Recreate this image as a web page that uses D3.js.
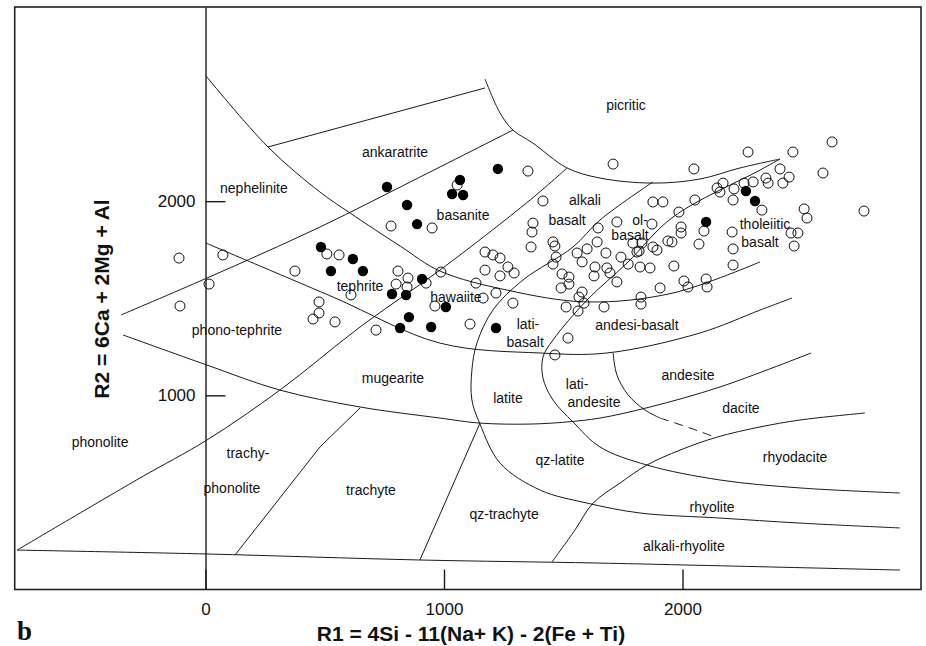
<!DOCTYPE html>
<html>
<head>
<meta charset="utf-8">
<script src="https://cdn.jsdelivr.net/npm/d3@7"></script>
<style>
  body { margin: 0; background: #fff; }
  svg text { font-family: "Liberation Sans", Arial, sans-serif; fill: #111; }
</style>
</head>
<body>
<div id="chart"></div>
<script>
// R1-R2 classification diagram (De la Roche)
const xDomain = [-800, 3000];
const yDomain = [0, 3000];
const xTickValues = [0, 1000, 2000];
const yTickValues = [1000, 2000];

// field boundaries, [R1, R2]
const baseLine = [[-790, 203], [2, 183], [899, 152], [1654, 136], [2912, 100]];
const phonoliteLine = [[-790, 203], [-275, 574], [6, 770], [312, 1027], [648, 1352], [983, 1645], [1361, 2006], [1516, 2171]];
const ankaratriteTop = [[262, 2279], [1172, 2583]];
const basaniteTop = [[-354, 1414], [6, 1604], [480, 1867], [899, 2124], [1289, 2366]];
const nepheliniteCurve = [[2, 2645], [262, 2279], [480, 2047], [606, 1939], [816, 1769], [983, 1640], [1264, 1542], [1600, 1481], [1960, 1527], [2325, 1687]];
const tephriteLower = [[2, 1784], [535, 1506], [983, 1269], [1403, 1218], [1683, 1218], [2073, 1321], [2325, 1439], [2459, 1501]];
const mugeariteTop = [[-346, 1311], [6, 1156], [312, 1027], [648, 940], [983, 883], [1151, 857], [1361, 852], [1516, 863], [1654, 883], [1864, 940], [2157, 1043], [2539, 1218]];
const trachyLine = [[124, 178], [480, 734], [648, 935]];
const qzTrachyLine = [[899, 152], [1151, 857]];
const latiteCurve = [[1876, 2099], [1654, 1903], [1541, 1764], [1331, 1594], [1205, 1439], [1138, 1269], [1117, 1130], [1117, 976], [1151, 852], [1235, 651], [1403, 512], [1600, 445], [1822, 394], [2157, 368], [2493, 342], [2912, 317]];
const tholeiiteCurve = [[2409, 2217], [2325, 2160], [1960, 1918], [1767, 1681], [1600, 1491], [1457, 1285], [1415, 1197], [1415, 1089], [1457, 976], [1541, 863], [1654, 734], [1851, 641], [2157, 564], [2493, 523], [2912, 497]];
const picriticArc = [[1172, 2629], [1235, 2454], [1289, 2366], [1373, 2299], [1516, 2171], [1654, 2119], [1876, 2093], [2073, 2114], [2241, 2171], [2409, 2217]];
const andesiteCurve = [[1709, 1218], [1725, 1105], [1772, 1002], [1843, 924], [1906, 883]];
const daciteDashed = [[1906, 883], [2031, 832], [2136, 785]];
const rhyodaciteCurve = [[1453, 142], [1549, 306], [1625, 445], [1738, 548], [1851, 641], [1990, 718], [2145, 785], [2325, 837], [2493, 873], [2765, 909]];

const straightLines = [ankaratriteTop, trachyLine, qzTrachyLine];
const curvedLines = [baseLine, phonoliteLine, basaniteTop, nepheliniteCurve, tephriteLower, mugeariteTop,
  latiteCurve, tholeiiteCurve, picriticArc, andesiteCurve, rhyodaciteCurve];

// field names, [text, R1, R2]
const fieldLabels = [
  ["picritic", 1763, 2495], ["ankaratrite", 795, 2253], ["nephelinite", 203, 2068],
  ["basanite", 1080, 1929], ["alkali", 1591, 2006], ["basalt", 1516, 1903],
  ["ol-", 1822, 1903], ["basalt", 1780, 1826], ["tholeiitic", 2346, 1882], ["basalt", 2325, 1790],
  ["tephrite", 648, 1563], ["hawaiite", 1050, 1506], ["phono-tephrite", 132, 1336],
  ["lati-", 1352, 1367], ["basalt", 1340, 1275], ["andesi-basalt", 1809, 1362],
  ["mugearite", 786, 1089], ["latite", 1268, 986], ["lati-", 1558, 1058], ["andesite", 1629, 966],
  ["andesite", 2023, 1105], ["dacite", 2245, 935], ["phonolite", -442, 760],
  ["trachy-", 178, 703], ["phonolite", 111, 523], ["trachyte", 694, 512],
  ["qz-latite", 1486, 667], ["qz-trachyte", 1252, 389], ["rhyodacite", 2472, 682],
  ["rhyolite", 2124, 425], ["alkali-rhyolite", 2006, 224]
];

// samples, [R1, R2]
const openSamples = [
  [-111, 1707], [73, 1723], [15, 1573], [-107, 1460], [375, 1640], [509, 1728], [560, 1723],
  [778, 1872], [950, 1862], [1055, 2083], [807, 1640], [849, 1604], [799, 1573], [845, 1558],
  [925, 1578], [987, 1635], [962, 1460], [610, 1517], [476, 1481], [476, 1424], [451, 1393],
  [543, 1378], [715, 1336],
  [1352, 2155], [1415, 2001], [1373, 1887], [1369, 1841], [1365, 1764], [1457, 1790], [1465, 1769],
  [1470, 1712], [1457, 1676], [1172, 1738], [1205, 1723], [1235, 1707], [1172, 1645], [1235, 1615],
  [1268, 1661], [1294, 1630], [1134, 1578], [1164, 1501], [1218, 1527], [1289, 1475], [1109, 1367],
  [1495, 1625], [1524, 1609], [1491, 1553], [1524, 1573], [1579, 1532], [1566, 1506], [1587, 1475],
  [1512, 1455], [1562, 1434], [1520, 1295], [1465, 1208], [1558, 1733], [1579, 1687], [1600, 1754],
  [1642, 1790], [1646, 1862], [1679, 1733], [1633, 1661], [1629, 1615], [1683, 1656], [1725, 1584],
  [1696, 1630], [1725, 1893], [1742, 1712], [1772, 1676], [1822, 1661], [1818, 1743], [1872, 1882],
  [1792, 1784], [1830, 1784], [1809, 1738], [1876, 1764], [1893, 1748], [1864, 1656], [1876, 1996],
  [1918, 1996], [1985, 1944], [1994, 1867], [1994, 1836], [1939, 1795], [1956, 1790], [1964, 1666],
  [2052, 2006], [2069, 1779], [2090, 1846], [2006, 1589], [2023, 1558], [2099, 1599], [2103, 1558],
  [1906, 1553], [1826, 1506], [1826, 1470], [1671, 1455], [2145, 2068], [2170, 2093], [2157, 2047],
  [2216, 2063], [2212, 2006], [2258, 2093], [2296, 2099], [2208, 1841], [2212, 1754], [2212, 1671],
  [1709, 2191], [2048, 2166], [2275, 2253], [2463, 2253], [2627, 2305], [2409, 2166], [2447, 2124],
  [2589, 2145], [2350, 2119], [2359, 2093], [2421, 2093], [2333, 1954], [2510, 1960], [2522, 1913],
  [2761, 1949], [2455, 1836], [2484, 1836], [2468, 1769]
];
const filledSamples = [
  [761, 2073], [845, 1980], [1067, 2109], [1034, 2037], [1080, 2032], [1226, 2166], [887, 1882],
  [484, 1764], [618, 1702], [526, 1640], [660, 1640], [908, 1599], [782, 1522], [841, 1517],
  [1008, 1455], [853, 1403], [816, 1347], [946, 1352], [1218, 1347], [2099, 1893], [2266, 2052],
  [2304, 2001]
];

const width = 926, height = 646;
const x = d3.scaleLinear().domain(xDomain).range([14.7, 921]);
const y = d3.scaleLinear().domain(yDomain).range([589.5, 7]);

const svg = d3.select('#chart').append('svg')
  .attr('width', width)
  .attr('height', height);

// frame
svg.append('rect')
  .attr('x', x(xDomain[0]))
  .attr('y', y(yDomain[1]))
  .attr('width', x(xDomain[1]) - x(xDomain[0]))
  .attr('height', y(yDomain[0]) - y(yDomain[1]))
  .attr('fill', 'none')
  .attr('stroke', '#222')
  .attr('stroke-width', 1.6);

// field boundaries
const curveGen = d3.line().x(d => x(d[0])).y(d => y(d[1])).curve(d3.curveCatmullRom.alpha(0.5));
const lineGen = d3.line().x(d => x(d[0])).y(d => y(d[1]));

const fields = svg.append('g')
  .attr('fill', 'none')
  .attr('stroke', '#1a1a1a')
  .attr('stroke-width', 1);

fields.selectAll('.curve')
  .data(curvedLines)
  .enter().append('path')
  .attr('class', 'curve')
  .attr('d', curveGen);

fields.selectAll('.straight')
  .data(straightLines)
  .enter().append('path')
  .attr('class', 'straight')
  .attr('d', lineGen);

fields.append('path')
  .attr('d', curveGen(daciteDashed))
  .attr('stroke-dasharray', '9,6');

// axes
const yAxis = svg.append('g')
  .attr('transform', `translate(${x(0)},0)`)
  .call(d3.axisLeft(y).tickValues(yTickValues).tickFormat(d3.format('d'))
    .tickSizeInner(-20).tickSizeOuter(0).tickPadding(10));

const xAxis = svg.append('g')
  .attr('transform', `translate(0,${y(0)})`)
  .call(d3.axisBottom(x).tickValues(xTickValues).tickFormat(d3.format('d'))
    .tickSizeInner(-20).tickSizeOuter(0).tickPadding(13.5));
xAxis.select('.domain').remove();

[xAxis, yAxis].forEach(g => {
  g.attr('font-size', 17).attr('font-family', '"Liberation Sans", Arial, sans-serif');
  g.selectAll('line, path').attr('stroke', '#1a1a1a').attr('stroke-width', 1.4);
  g.selectAll('text').attr('fill', '#111');
});

// field names
svg.append('g')
  .selectAll('text')
  .data(fieldLabels)
  .enter().append('text')
  .attr('x', d => x(d[1]))
  .attr('y', d => y(d[2]))
  .attr('dy', '0.35em')
  .attr('text-anchor', 'middle')
  .style('font-size', '14px')
  .text(d => d[0]);

// samples
svg.append('g')
  .selectAll('circle')
  .data(openSamples)
  .enter().append('circle')
  .attr('cx', d => x(d[0]))
  .attr('cy', d => y(d[1]))
  .attr('r', 5)
  .attr('fill', 'none')
  .attr('stroke', '#111')
  .attr('stroke-width', 1);

svg.append('g')
  .selectAll('circle')
  .data(filledSamples)
  .enter().append('circle')
  .attr('cx', d => x(d[0]))
  .attr('cy', d => y(d[1]))
  .attr('r', 5.2)
  .attr('fill', '#000');

// axis titles
svg.append('text')
  .attr('x', 471)
  .attr('y', 641)
  .attr('text-anchor', 'middle')
  .style('font-size', '21px')
  .style('font-weight', 'bold')
  .text('R1 = 4Si - 11(Na+ K) - 2(Fe + Ti)');

svg.append('text')
  .attr('transform', 'translate(101,299) rotate(-90)')
  .attr('text-anchor', 'middle')
  .attr('dy', '0.36em')
  .style('font-size', '21px')
  .style('font-weight', 'bold')
  .text('R2 = 6Ca + 2Mg + Al');

svg.append('text')
  .attr('x', 17)
  .attr('y', 640)
  .style('font-family', '"Liberation Serif", "Times New Roman", serif')
  .style('font-size', '27px')
  .style('font-weight', 'bold')
  .text('b');
</script>
</body>
</html>
